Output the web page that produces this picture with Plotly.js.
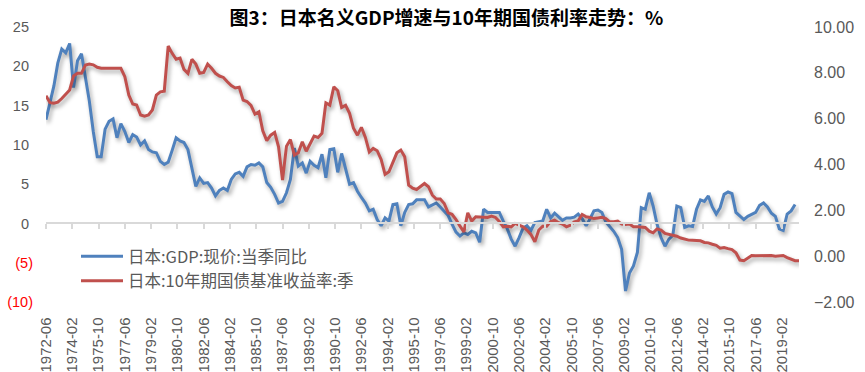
<!DOCTYPE html>
<html>
<head>
<meta charset="utf-8">
<script src="https://cdn.plot.ly/plotly-3.0.1.min.js"></script>
<style>
  html, body { margin: 0; padding: 0; background: #fff; }
  #chart { width: 865px; height: 372px; }
  .scatterlayer .js-line { filter: drop-shadow(2px 3px 2px rgba(0,0,0,0.35)); }
</style>
</head>
<body>
<div id="chart"></div>
<script>
// ---- data (quarterly, first point 1972-06) ----
const startYear = 1972;
const startMonth = 6;

const gdpNominalYoY = [
  13.2, 15.4, 17.5, 20.4, 22.2, 21.7, 22.9, 17.3, 20.7, 21.6,
  18.5, 15.6, 11.7, 8.5, 8.5, 12.0, 13.0, 13.3, 10.9, 12.7,
  11.7, 10.3, 11.3, 11.0, 10.0, 10.5, 9.4, 9.1, 9.0, 7.9,
  7.5, 7.8, 9.3, 10.9, 10.5, 10.3, 9.4, 6.9, 4.7, 5.8,
  5.1, 5.2, 4.5, 3.5, 4.2, 4.5, 4.2, 5.6, 6.3, 6.5,
  6.0, 7.2, 7.5, 7.4, 7.7, 7.2, 5.2, 4.6, 3.7, 2.6,
  2.8, 3.9, 5.6, 9.6, 7.3, 7.7, 6.4, 7.9, 7.4, 7.1,
  8.8, 5.8, 9.4, 9.5, 6.5, 8.9, 7.1, 5.0, 5.2, 4.1,
  3.3, 2.6, 1.6, 1.8, 0.5, -0.3, 0.7, 0.3, 2.4, 2.5,
  -0.3, 1.4, 2.4, 2.5, 3.0, 3.0, 3.0, 2.1, 2.4, 2.6,
  2.1, 1.6, 1.0, -0.1, -1.1, -1.6, -1.2, -1.4, -1.0, -1.2,
  -2.4, 1.8, 1.4, 1.4, 1.4, 1.4, 0.3, -0.7, -2.0, -2.9,
  -1.8, -0.6, -0.3, -0.9, 0.1, 0.2, 0.3, 1.8, 0.7, 1.3,
  0.9, 0.4, 0.7, 0.7, 0.8, 1.2, 0.6, -0.3, 0.6, 1.6,
  1.7, 1.4, 0.2, -0.4, -1.0, -1.8, -3.3, -8.6, -6.3, -5.4,
  -3.7, 2.0, 1.8, 3.9, 2.2, -0.1, -1.8, -2.9, -2.0, -1.5,
  2.2, 2.0, -0.5, -0.3, -0.4, 1.8, 3.0, 2.8, 3.5, 2.1,
  1.2, 2.0, 3.7, 4.0, 3.8, 1.4, 0.9, 0.5, 0.9, 1.2,
  1.4, 2.3, 2.6, 2.1, 1.3, 0.9, -0.7, -0.9, 1.2, 1.6,
  2.4
];

const jgb10yYield = [
  7.0, 6.7, 6.67, 6.72, 6.88, 7.06, 7.25, 7.86, 7.98, 7.98,
  8.34, 8.38, 8.35, 8.24, 8.2, 8.2, 8.2, 8.2, 8.2, 8.2,
  7.83, 7.03, 6.64, 6.6, 6.16, 6.11, 6.16, 6.38, 7.03, 7.17,
  7.2, 9.17, 8.85, 8.59, 8.64, 8.15, 7.98, 8.59, 8.38, 7.98,
  8.02, 8.38, 8.2, 7.98, 7.86, 7.8, 7.61, 7.44, 7.34, 7.37,
  6.81, 6.75, 6.58, 6.2, 6.3, 5.47, 5.04, 5.28, 5.4, 4.77,
  3.32, 4.8, 5.09, 4.41, 4.51, 4.99, 4.58, 4.89, 5.24, 5.18,
  5.36, 6.69, 6.59, 7.39, 7.22, 6.49, 6.58, 6.23, 5.58, 5.28,
  5.62, 5.18, 4.55, 4.7, 4.6, 4.22, 3.57, 3.68, 4.12, 4.51,
  4.63, 4.34, 3.1, 2.97, 2.91, 3.03, 3.17, 3.03, 2.66, 2.49,
  2.49, 2.3, 1.89, 1.83, 1.6, 1.31, 1.06, 1.89, 1.53, 1.72,
  1.72, 1.72, 1.69, 1.75, 1.69, 1.51, 1.28, 1.31, 1.28, 1.43,
  1.35, 1.28, 1.14, 0.95, 0.63, 1.14, 1.31, 1.31, 1.51, 1.57,
  1.46, 1.4, 1.28, 1.35, 1.5, 1.54, 1.82, 1.72, 1.69, 1.64,
  1.67, 1.7, 1.64, 1.5, 1.5, 1.53, 1.4, 1.38, 1.4, 1.28,
  1.28, 1.28, 1.25, 1.09, 1.02, 1.19, 1.14, 0.99, 0.96, 0.92,
  0.87, 0.79, 0.73, 0.7, 0.69, 0.69, 0.67, 0.6, 0.58, 0.52,
  0.47, 0.35, 0.38, 0.33, 0.29, 0.15, -0.17, -0.2, -0.09, 0.03,
  0.02, 0.03, 0.03, 0.03, 0.03, 0.0, 0.03, 0.03, -0.06, -0.12,
  -0.2, -0.2
];

const leftTickVals = [-10, -5, 0, 5, 10, 15, 20, 25];
const leftTickLabels = ['(10)', '(5)', '0', '5', '10', '15', '20', '25'];
const rightTickVals = [-2, 0, 2, 4, 6, 8, 10];

const seriesNames = ['日本:GDP:现价:当季同比', '日本:10年期国债基准收益率:季'];
const titleText = '图3：日本名义GDP增速与10年期国债利率走势：%';

// quarterly date labels
function quarterDates(n) {
  const out = [];
  for (let k = 0; k < n; k++) {
    const m0 = (startMonth - 1) + 3 * k;
    const y = startYear + Math.floor(m0 / 12);
    const m = (m0 % 12) + 1;
    out.push(y + '-' + String(m).padStart(2, '0') + '-01');
  }
  return out;
}

const leftTickText = leftTickVals.map((v, i) =>
  v < 0 ? '<span style="color:#FF0000">' + leftTickLabels[i] + '</span>'
        : leftTickLabels[i] + '\u00A0');

const traces = [
  {
    x: quarterDates(gdpNominalYoY.length),
    y: gdpNominalYoY,
    name: seriesNames[0],
    type: 'scatter', mode: 'lines',
    line: { color: '#4F81BD', width: 3 },
    yaxis: 'y', xaxis: 'x'
  },
  {
    x: quarterDates(jgb10yYield.length),
    y: jgb10yYield,
    name: seriesNames[1],
    type: 'scatter', mode: 'lines',
    line: { color: '#C0504D', width: 3 },
    yaxis: 'y2', xaxis: 'x'
  }
];

const tickFont = { family: 'Liberation Sans, Arial, sans-serif', color: '#595959' };

const layout = {
  width: 865, height: 372,
  margin: { l: 46, r: 66, t: 27, b: 70 },
  paper_bgcolor: '#ffffff', plot_bgcolor: '#ffffff',
  showlegend: true,
  title: {
    text: '<b>' + titleText + '</b>',
    font: { family: 'Noto Sans CJK SC, sans-serif', size: 19, color: '#000000' },
    x: 460 / 865, xanchor: 'center', xref: 'paper',
    y: 1 - 18 / 372, yanchor: 'middle', yref: 'container'
  },
  xaxis: {
    type: 'date',
    range: ['1972-06-01', '2020-03-01'],
    tick0: '1972-06-01', dtick: 'M20', tickformat: '%Y-%m',
    tickangle: -90,
    ticks: 'outside', ticklen: 5, tickwidth: 2, tickcolor: '#D9D9D9',
    showline: true, linecolor: '#D9D9D9', linewidth: 2,
    showgrid: false, zeroline: false,
    anchor: 'free', position: 10 / 35,
    ticklabelstandoff: 82,
    tickfont: Object.assign({ size: 15 }, tickFont)
  },
  yaxis: {
    range: [-10, 25],
    tickvals: leftTickVals, ticktext: leftTickText,
    showgrid: false, zeroline: false, showline: false,
    ticks: '', ticklabelstandoff: 12,
    tickfont: Object.assign({ size: 14.5 }, tickFont)
  },
  yaxis2: {
    range: [-2, 10],
    overlaying: 'y', side: 'right',
    tickvals: rightTickVals, tickformat: '.2f',
    showgrid: false, zeroline: false, showline: false,
    ticks: '', ticklabelstandoff: 14,
    tickfont: Object.assign({ size: 16 }, tickFont)
  },
  legend: {
    x: 30 / 753, xanchor: 'left',
    y: (302 - 239) / 275, yanchor: 'top',
    bgcolor: 'rgba(0,0,0,0)', borderwidth: 0,
    itemwidth: 42,
    font: { family: 'Noto Sans CJK SC, sans-serif', size: 16.5, color: '#595959' },
    tracegroupgap: 0
  }
};

Plotly.newPlot('chart', traces, layout, { displayModeBar: false, staticPlot: true });
</script>
</body>
</html>
